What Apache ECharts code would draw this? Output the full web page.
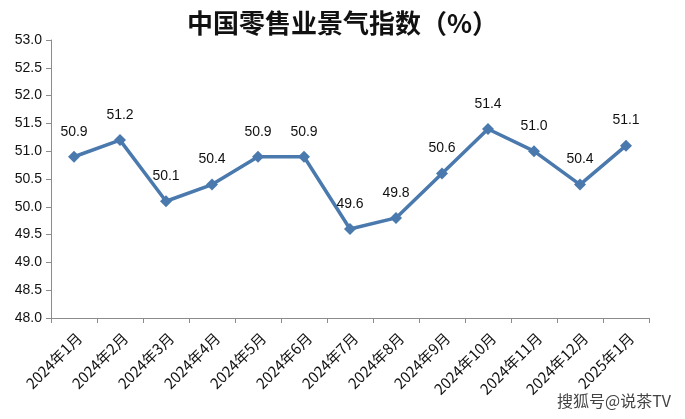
<!DOCTYPE html>
<html><head><meta charset="utf-8">
<script src="https://cdn.jsdelivr.net/npm/echarts@6/dist/echarts.min.js"></script>
<style>html,body{margin:0;padding:0;background:#fff}#c{width:685px;height:419px}</style>
</head><body><div id="c"></div>
<script>
const categories = ['2024年1月','2024年2月','2024年3月','2024年4月','2024年5月','2024年6月','2024年7月','2024年8月','2024年9月','2024年10月','2024年11月','2024年12月','2025年1月'];
const values = [50.9, 51.2, 50.1, 50.4, 50.9, 50.9, 49.6, 49.8, 50.6, 51.4, 51.0, 50.4, 51.1];
const yMin = 48.0, yMax = 53.0, yStep = 0.5;

const chart = echarts.init(document.getElementById('c'));
chart.setOption({
  animation: false,
  backgroundColor: '#fff',
  title: {
    text: '中国零售业景气指数（%）',
    left: 'center', top: 5,
    textStyle: { fontFamily: 'Noto Sans CJK SC', fontSize: 26, fontWeight: 'bold', color: '#111' }
  },
  grid: { left: 51, right: 36, top: 40, bottom: 101 },
  xAxis: {
    type: 'category', data: categories, boundaryGap: true,
    axisLine: { lineStyle: { color: '#8c8c8c', width: 1 } },
    axisTick: { show: true, length: 5, inside: false, lineStyle: { color: '#8c8c8c' } },
    axisLabel: { rotate: 45, interval: 0, margin: 12, align: 'right', verticalAlign: 'top', color: '#111', fontSize: 15, fontFamily: 'Noto Sans CJK SC' },
    splitLine: { show: false }
  },
  yAxis: {
    type: 'value', min: yMin, max: yMax, interval: yStep,
    axisLine: { show: true, lineStyle: { color: '#8c8c8c', width: 1 } },
    axisTick: { show: true, length: 5, lineStyle: { color: '#8c8c8c' } },
    axisLabel: { color: '#111', fontSize: 14, margin: 9, fontFamily: 'Liberation Sans', formatter: v => v.toFixed(1) },
    splitLine: { show: false }
  },
  series: [{
    type: 'line', data: values,
    symbol: 'diamond', symbolSize: 12,
    lineStyle: { color: '#4a79ae', width: 3.5 },
    itemStyle: { color: '#4a79ae' },
    label: { show: true, position: 'top', distance: 12, color: '#111', fontSize: 14, fontFamily: 'Liberation Sans', formatter: p => p.value.toFixed(1) }
  }],
  graphic: [{
    type: 'text', right: 13, bottom: 9,
    style: { text: '搜狐号@说茶TV', font: '16px "Noto Sans CJK SC"', fill: '#444', stroke: '#fff', lineWidth: 2 }
  }]
});
</script></body></html>
